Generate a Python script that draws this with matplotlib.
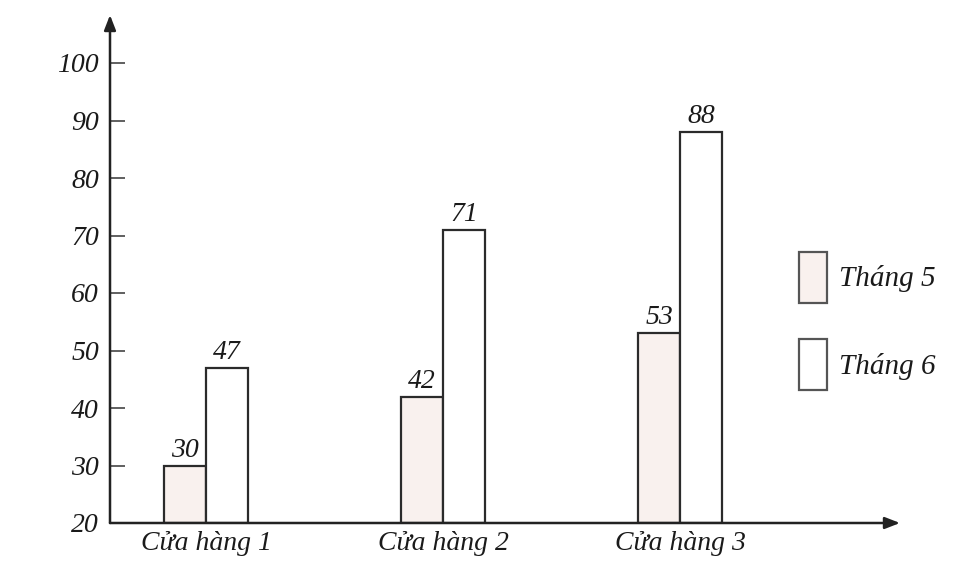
import matplotlib
matplotlib.use("Agg")
import matplotlib.pyplot as plt
import numpy as np
from matplotlib.patches import Patch

stores = ["Cửa hàng 1", "Cửa hàng 2", "Cửa hàng 3"]
may_values = [30, 42, 53]
june_values = [47, 71, 88]
series_labels = ["Tháng 5", "Tháng 6"]
y_ticks = [20, 30, 40, 50, 60, 70, 80, 90, 100]

plt.rcParams["font.family"] = ["Liberation Serif", "DejaVu Serif"]
plt.rcParams["font.style"] = "italic"

W, H = 963, 566
fig = plt.figure(figsize=(W / 100, H / 100), dpi=100)
fig.patch.set_facecolor("white")

# axes box: y-axis at x=110px, baseline at y=523px, top arrow ~15px, right arrow ~900px
left, bottom, right, top = 110, 523, 900, 15
ax = fig.add_axes([left / W, (H - bottom) / H, (right - left) / W, (bottom - top) / H])
ax.set_facecolor("none")

px_per_group = 237.0
x0 = (left - 206) / px_per_group
x1 = (right - 206) / px_per_group
ax.set_xlim(x0, x1)
px_per_unit = 5.75
ax.set_ylim(20, 20 + (bottom - top) / px_per_unit)

x = np.arange(len(stores))
bw = 42 / px_per_group
edge = "#2b2b2b"
b1 = ax.bar(x - bw / 2, np.array(may_values) - 20, bw, bottom=20, color="#f9f1ee",
            edgecolor=edge, linewidth=1.6, label=series_labels[0])
b2 = ax.bar(x + bw / 2, np.array(june_values) - 20, bw, bottom=20, color="white",
            edgecolor=edge, linewidth=1.6, label=series_labels[1])

FS = 20
TXT = "#1a1a1a"
for bars, vals in ((b1, may_values), (b2, june_values)):
    for rect, v in zip(bars, vals):
        ax.text(rect.get_x() + rect.get_width() / 2, v + 0.5, str(v),
                ha="center", va="bottom", fontsize=FS, color=TXT)

for s in ax.spines.values():
    s.set_visible(False)

# axis arrows
arrow = dict(arrowstyle="-|>,head_length=0.9,head_width=0.35",
             color="#222222", lw=1.8, shrinkA=0, shrinkB=0)
ax.annotate("", xy=(0, 1), xytext=(0, 0), xycoords="axes fraction", arrowprops=arrow)
ax.annotate("", xy=(1, 0), xytext=(0, 0), xycoords="axes fraction", arrowprops=arrow)

ax.set_yticks(y_ticks)
ax.set_yticklabels([str(t) for t in y_ticks], fontsize=FS, color=TXT)
ax.tick_params(axis="y", direction="in", length=11, width=1.2, color="#444444", pad=8)
ax.set_xticks(x)
ax.set_xticklabels(stores, fontsize=FS, color=TXT)
ax.tick_params(axis="x", length=0, pad=6)

handles = [Patch(facecolor="#f9f1ee", edgecolor="#555555", linewidth=1.6),
           Patch(facecolor="white", edgecolor="#555555", linewidth=1.6)]
LFS = 21
fig.legend(handles, series_labels, loc="upper left",
           bbox_to_anchor=(799 / W, (H - 252) / H), frameon=False,
           fontsize=LFS, handlelength=0.97, handleheight=2.3,
           labelspacing=1.25, handletextpad=0.4, borderpad=0, borderaxespad=0,
           labelcolor=TXT)

fig.savefig("out.png", dpi=100, facecolor="white")
